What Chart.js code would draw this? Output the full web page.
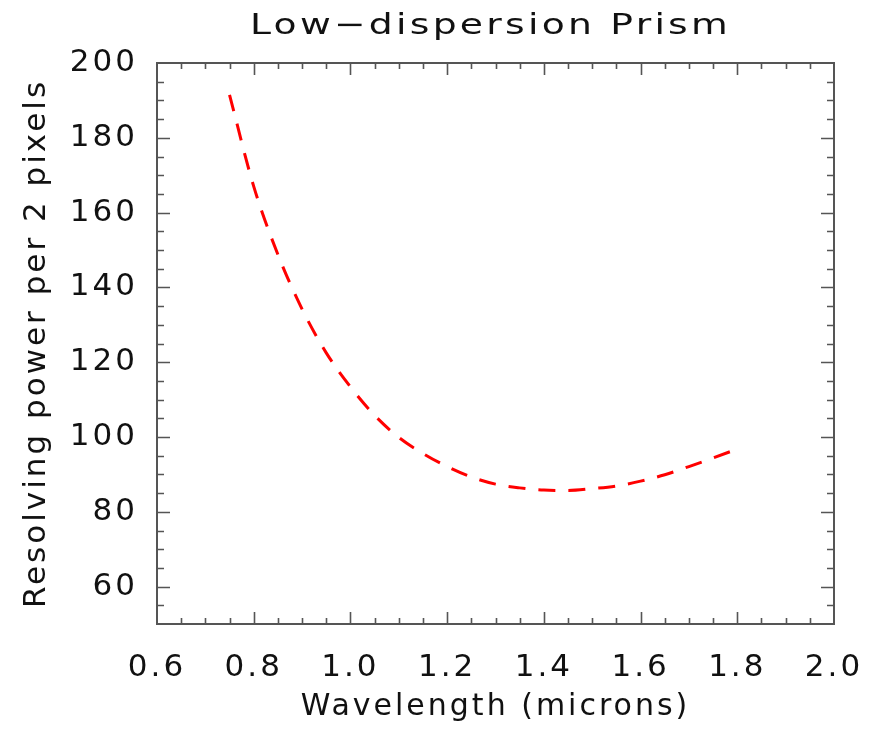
<!DOCTYPE html>
<html>
<head>
<meta charset="utf-8">
<title>Low-dispersion Prism</title>
<script src="https://cdn.jsdelivr.net/npm/chart.js@4.4.1/dist/chart.umd.min.js"></script>
<style>
  html, body { margin: 0; padding: 0; background: #fff; }
  #wrap { width: 874px; height: 729px; }
</style>
</head>
<body>
<div id="wrap"><canvas id="prism"></canvas></div>
<script>
// wavelength (microns) and resolving power per 2 pixels
const wavelength = [0.75, 0.80, 0.85, 0.90, 0.95, 1.00, 1.05, 1.10, 1.15, 1.20, 1.25,
                    1.30, 1.35, 1.40, 1.45, 1.50, 1.55, 1.60, 1.65, 1.70, 1.75, 1.80];
const resolvingPower = [191.5, 167.0, 148.8, 134.2, 122.5, 113.4, 105.8, 99.9, 95.6, 92.1, 89.3,
                        87.4, 86.4, 85.8, 85.7, 86.2, 86.9, 88.2, 89.9, 92.1, 94.4, 96.8];

const xTicks = [0.6, 0.8, 1.0, 1.2, 1.4, 1.6, 1.8, 2.0];
const yTicks = [60, 80, 100, 120, 140, 160, 180, 200];

const AXIS_FONT = "'DejaVu Sans', sans-serif";

// the IDL vector font is wide, so space the letters out a bit
// and stretch the title glyphs horizontally, centred over the plot box
const wideText = {
  id: 'wideText',
  beforeDraw(chart) {
    chart.ctx.letterSpacing = '3px';
  },
  afterLayout(chart) {
    const tb = chart.titleBlock;
    if (!tb || tb._wide) return;
    const orig = tb.draw;
    tb.draw = function() {
      const ctx = this.ctx;
      const a = chart.chartArea;
      const cx = (this.left + this.right) / 2;
      const target = (a.left + a.right) / 2 - 5;
      ctx.save();
      ctx.letterSpacing = '2.5px';
      ctx.translate(target, 0);
      ctx.scale(1.3, 1);
      ctx.translate(-cx, 0);
      orig.apply(this, arguments);
      ctx.restore();
    };
    tb._wide = true;
  }
};

// IDL-style frame: box around the plot with inward ticks on all four sides
const idlFrame = {
  id: 'idlFrame',
  afterDraw(chart) {
    const { ctx, chartArea: a, scales: { x, y } } = chart;
    ctx.save();
    ctx.strokeStyle = '#555';
    ctx.lineWidth = 2;
    ctx.strokeRect(a.left, a.top, a.right - a.left, a.bottom - a.top);

    ctx.lineWidth = 1.6;
    ctx.beginPath();
    // x ticks: major every 0.2, minor every 0.05
    for (let i = 0; i <= 28; i++) {
      const v = 0.6 + i * 0.05;
      const px = Math.round(x.getPixelForValue(v)) + 0.5;
      if (px <= a.left + 1 || px >= a.right - 1) continue;
      const len = i % 4 === 0 ? 12 : 6;
      ctx.moveTo(px, a.bottom); ctx.lineTo(px, a.bottom - len);
      ctx.moveTo(px, a.top); ctx.lineTo(px, a.top + len);
    }
    // y ticks: major every 20, minor every 5
    for (let v = 50; v <= 200; v += 5) {
      const py = Math.round(y.getPixelForValue(v)) + 0.5;
      if (py <= a.top + 1 || py >= a.bottom - 1) continue;
      const len = v % 20 === 0 ? 13 : 7;
      ctx.moveTo(a.left, py); ctx.lineTo(a.left + len, py);
      ctx.moveTo(a.right, py); ctx.lineTo(a.right - len, py);
    }
    ctx.stroke();
    ctx.restore();
  }
};

new Chart(document.getElementById('prism'), {
  type: 'line',
  data: {
    datasets: [{
      data: wavelength.map((w, i) => ({ x: w, y: resolvingPower[i] })),
      borderColor: '#ff0000',
      borderWidth: 3,
      borderDash: [17, 13],
      pointRadius: 0,
      fill: false,
      cubicInterpolationMode: 'monotone'
    }]
  },
  options: {
    responsive: true,
    maintainAspectRatio: false,
    animation: false,
    layout: { padding: { top: 0, right: 40, bottom: 0, left: 0 } },
    plugins: {
      legend: { display: false },
      tooltip: { enabled: false },
      title: {
        display: true,
        text: 'Low\u2212dispersion Prism',
        color: '#111',
        font: { family: AXIS_FONT, size: 29, weight: 'normal' },
        padding: { top: 9, bottom: 19.2 }
      }
    },
    scales: {
      x: {
        type: 'linear',
        min: 0.6,
        max: 2.0,
        afterBuildTicks: (s) => { s.ticks = xTicks.map(v => ({ value: v })); },
        afterFit: (s) => { s.height = 105; s.paddingLeft = 0; s.paddingRight = 0; },
        ticks: {
          color: '#111',
          padding: 17,
          maxRotation: 0,
          autoSkip: false,
          font: { family: AXIS_FONT, size: 31 },
          callback: (v) => v.toFixed(1)
        },
        grid: { display: false },
        border: { display: false },
        title: {
          display: true,
          text: 'Wavelength (microns)',
          color: '#111',
          font: { family: AXIS_FONT, size: 30 },
          padding: { top: 0, bottom: 4 }
        }
      },
      y: {
        min: 50,
        max: 200,
        afterBuildTicks: (s) => { s.ticks = yTicks.map(v => ({ value: v })); },
        afterFit: (s) => { s.width = 157; },
        ticks: {
          color: '#111',
          padding: 11,
          autoSkip: false,
          font: { family: AXIS_FONT, size: 31 }
        },
        grid: { display: false },
        border: { display: false },
        title: {
          display: true,
          text: 'Resolving power per 2 pixels',
          color: '#111',
          font: { family: AXIS_FONT, size: 31 },
          padding: { top: 18, bottom: 0 }
        }
      }
    }
  },
  plugins: [wideText, idlFrame]
});
</script>
</body>
</html>
